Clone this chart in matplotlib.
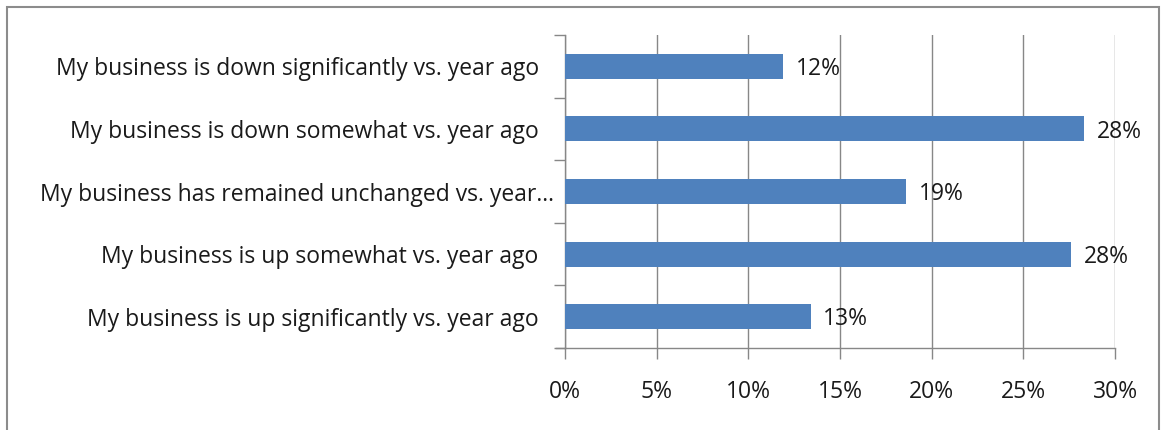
import matplotlib
matplotlib.use('Agg')
import matplotlib.pyplot as plt
import matplotlib.transforms as mtransforms
from matplotlib.patches import Rectangle
from matplotlib.ticker import FixedLocator

# --- Data (bottom to top, as drawn) ---
categories = [
    'My business is up significantly vs. year ago',
    'My business is up somewhat vs. year ago',
    'My business has remained unchanged vs. year\u2026',
    'My business is down somewhat vs. year ago',
    'My business is down significantly vs. year ago',
]
values = [13.4, 27.6, 18.6, 28.3, 11.9]
value_labels = ['13%', '28%', '19%', '28%', '12%']
x_ticks = [0, 5, 10, 15, 20, 25, 30]
x_tick_labels = ['0%', '5%', '10%', '15%', '20%', '25%', '30%']

plt.rcParams['font.family'] = ['Open Sans', 'DejaVu Sans']

bar_color = '#4F81BD'
grid_color = '#878787'
text_color = '#1a1a1a'
fs = 16.5

fig = plt.figure(figsize=(11.66, 4.30), dpi=100)
ax = fig.add_axes([0.4846, 0.1907, 0.4717, 0.7279])

y = list(range(len(categories)))
ax.barh(y, values, height=0.4, color=bar_color, zorder=3)

# value labels to the right of each bar
for yi, v, lab in zip(y, values, value_labels):
    ax.annotate(lab, (v, yi), xytext=(9, -2), textcoords='offset points',
                va='center', ha='left', fontsize=fs, color=text_color, zorder=4)

ax.set_xlim(0, 30)
ax.set_ylim(-0.5, len(categories) - 0.5)

ax.set_xticks(x_ticks)
ax.set_xticklabels(x_tick_labels)
ax.set_yticks(y)
ax.set_yticklabels(categories)
ax.yaxis.set_minor_locator(FixedLocator([i - 0.5 for i in range(len(categories) + 1)]))

ax.tick_params(axis='x', direction='out', length=8, width=1, color=grid_color,
               pad=15, labelsize=fs, labelcolor=text_color)
ax.tick_params(axis='y', which='major', length=0, pad=19,
               labelsize=fs, labelcolor=text_color)
ax.tick_params(axis='y', which='minor', direction='out', length=8, width=1, color=grid_color)

# the truncated label runs closer to the axis, as in the original
for lab in ax.get_yticklabels():
    if lab.get_text().endswith('\u2026'):
        lab.set_transform(lab.get_transform() +
                          mtransforms.ScaledTranslation(15 / 100, 0, fig.dpi_scale_trans))

ax.xaxis.grid(True, color=grid_color, linewidth=1, zorder=0)
ax.set_axisbelow(True)

for side in ['top', 'right']:
    ax.spines[side].set_visible(False)
for side in ['left', 'bottom']:
    ax.spines[side].set_color(grid_color)
    ax.spines[side].set_linewidth(1)

# bottom axis line reaches out to the left tick
ax.plot([-0.5, 0], [-0.5, -0.5], color=grid_color, linewidth=1, clip_on=False, zorder=2)

# outer chart border
fig.patches.append(Rectangle((7 / 1166, -0.05), 1152 / 1166, 1 - 7 / 430 + 0.05,
                             transform=fig.transFigure, fill=False,
                             edgecolor='#8c8c8c', linewidth=1.5))

fig.savefig('out.png', dpi=100)
